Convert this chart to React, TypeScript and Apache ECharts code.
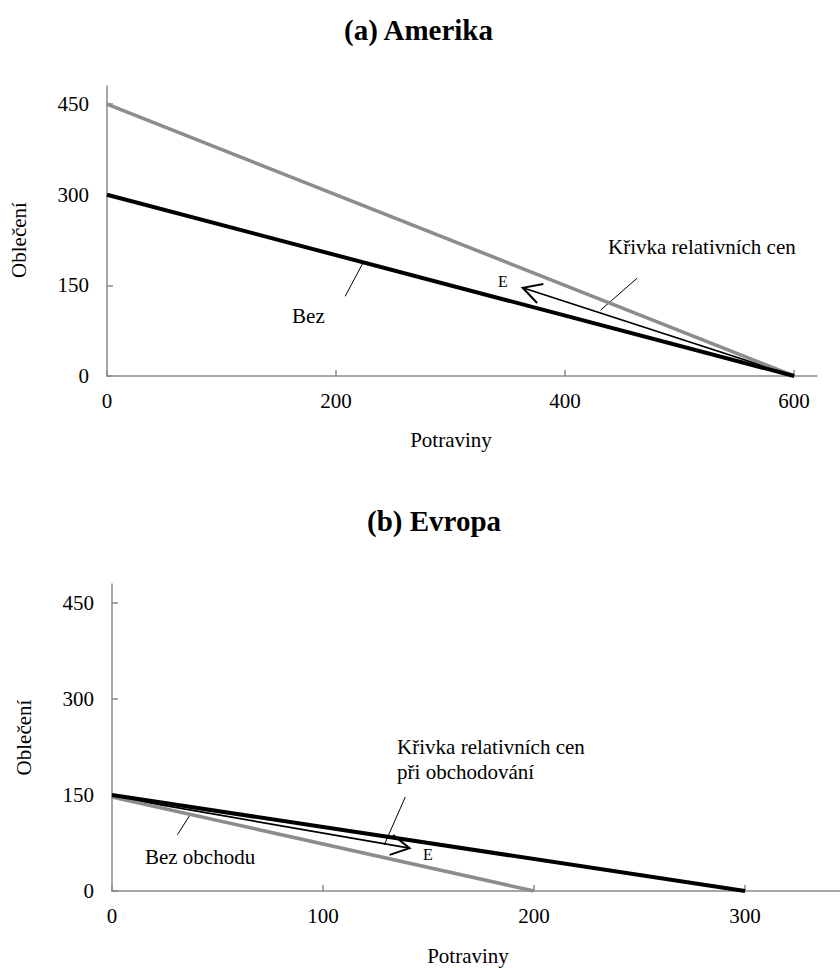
import React, { useEffect, useRef } from "react";
import * as echarts from "echarts";

// ---- data ----
const titleA = "(a) Amerika";
const titleB = "(b) Evropa";
const xName = "Potraviny";
const yName = "Oblečení";

const yTicks = [0, 150, 300, 450];
const xTicksA = [0, 200, 400, 600];
const xTicksB = [0, 100, 200, 300];

// Amerika
const amerikaBez = [[0, 300], [600, 0]]; // black: bez obchodu
const amerikaRel = [[0, 450], [600, 0]]; // gray: křivka relativních cen
const arrowA = [[597, 2, 363, 146]];
const leadersA = [[208, 132, 224, 189], [463, 162, 431, 109]];
const labelTextA = ["Bez", "Křivka relativních cen", "E"];
const labelXA = [161.6, 437.5, 341.5];
const labelYA = [99.3, 213.5, 155.6];
const labelSizeA = [21, 21, 16];

// Evropa
const evropaBez = [[0, 147], [200, 0]]; // gray: bez obchodu
const evropaRel = [[0, 150], [300, 0]]; // black: křivka relativních cen při obchodování
const arrowB = [[0, 148, 141, 67]];
const leadersB = [[31, 88, 37, 119], [139, 147, 129, 72]];
const labelTextB = ["Bez obchodu", "Křivka relativních cen", "při obchodování", "E"];
const labelXB = [15.6, 135.1, 135.1, 147.4];
const labelYB = [53.2, 225.1, 186, 56.3];
const labelSizeB = [21, 21, 21, 16];

const FONT = "Liberation Serif";
const AXIS_GRAY = "#8a8a8a";
const LINE_GRAY = "#8c8c8c";

function arrowRender(params: any, api: any) {
  const p1 = api.coord([api.value(0), api.value(1)]);
  const p2 = api.coord([api.value(2), api.value(3)]);
  const ang = Math.atan2(p1[1] - p2[1], p1[0] - p2[0]);
  const L = 21;
  const a = 0.5;
  const arm1 = [p2[0] + L * Math.cos(ang + a), p2[1] + L * Math.sin(ang + a)];
  const arm2 = [p2[0] + L * Math.cos(ang - a), p2[1] + L * Math.sin(ang - a)];
  return {
    type: "group",
    children: [
      {
        type: "line",
        shape: { x1: p1[0], y1: p1[1], x2: p2[0], y2: p2[1] },
        style: { stroke: "#000", lineWidth: 1.6 },
      },
      {
        type: "polyline",
        shape: { points: [arm1, p2, arm2] },
        style: { stroke: "#000", fill: null, lineWidth: 2 },
      },
    ],
  };
}

function segRender(params: any, api: any) {
  const p1 = api.coord([api.value(0), api.value(1)]);
  const p2 = api.coord([api.value(2), api.value(3)]);
  return {
    type: "line",
    shape: { x1: p1[0], y1: p1[1], x2: p2[0], y2: p2[1] },
    style: { stroke: "#000", lineWidth: 1 },
  };
}

function makeLabelRender(texts: string[], sizes: number[]) {
  return (params: any, api: any) => {
    const p = api.coord([api.value(0), api.value(1)]);
    const i = params.dataIndex;
    return {
      type: "text",
      x: p[0],
      y: p[1],
      style: {
        text: texts[i],
        fill: "#000",
        fontSize: sizes[i],
        fontFamily: FONT,
        align: "left",
        verticalAlign: "middle",
      },
    };
  };
}

function xAxisCfg(gridIndex: number, max: number, ticks: number[], padRight: number, gap: number) {
  return {
    type: "value",
    gridIndex,
    min: 0,
    max,
    name: xName,
    nameLocation: "middle",
    nameGap: gap,
    nameTextStyle: { color: "#000", fontSize: 21, fontFamily: FONT, padding: [0, padRight, 0, 0] },
    axisLine: { show: true, lineStyle: { color: AXIS_GRAY, width: 1.5 } },
    axisTick: { show: true, inside: true, length: 6, customValues: ticks, lineStyle: { color: AXIS_GRAY, width: 1.5 } },
    axisLabel: { customValues: ticks, margin: 14, color: "#000", fontSize: 21, fontFamily: FONT },
    splitLine: { show: false },
  };
}

function yAxisCfg(gridIndex: number, padRight: number) {
  return {
    type: "value",
    gridIndex,
    min: 0,
    max: 480,
    name: yName,
    nameLocation: "middle",
    nameRotate: 90,
    nameGap: 78,
    nameTextStyle: { color: "#000", fontSize: 21, fontFamily: FONT, padding: [0, padRight, 0, 0] },
    axisLine: { show: true, lineStyle: { color: AXIS_GRAY, width: 1.5 } },
    axisTick: { show: true, inside: true, length: 6, customValues: yTicks, lineStyle: { color: AXIS_GRAY, width: 1.5 } },
    axisLabel: { customValues: yTicks, margin: 18, color: "#000", fontSize: 21, fontFamily: FONT },
    splitLine: { show: false },
  };
}

function lineSeries(data: number[][], color: string, width: number, idx: number) {
  return {
    type: "line",
    xAxisIndex: idx,
    yAxisIndex: idx,
    data,
    showSymbol: false,
    symbol: "none",
    lineStyle: { color, width },
    silent: true,
  };
}

export default function App() {
  const ref = useRef<HTMLDivElement>(null);
  useEffect(() => {
    document.body.style.margin = "0";
    const chart = echarts.init(ref.current!, null, { renderer: "svg" });
    chart.setOption({
      animation: false,
      backgroundColor: "#fff",
      textStyle: { fontFamily: FONT },
      title: [
        { text: titleA, left: 339, top: 10, textStyle: { fontSize: 29, fontWeight: "bold", fontFamily: FONT, color: "#000" } },
        { text: titleB, left: 362, top: 501, textStyle: { fontSize: 29, fontWeight: "bold", fontFamily: FONT, color: "#000" } },
      ],
      grid: [
        { left: 107, right: 23, top: 86, height: 290 },
        { left: 112, right: 0, top: 584, height: 307 },
      ],
      xAxis: [xAxisCfg(0, 620, xTicksA, 22, 53), xAxisCfg(1, 345, xTicksB, 16, 54)],
      yAxis: [yAxisCfg(0, 18), yAxisCfg(1, 0)],
      series: [
        lineSeries(amerikaRel, LINE_GRAY, 3.5, 0),
        lineSeries(amerikaBez, "#000", 4, 0),
        { type: "custom", xAxisIndex: 0, yAxisIndex: 0, data: arrowA, renderItem: arrowRender, encode: { x: [0, 2], y: [1, 3] }, silent: true },
        { type: "custom", xAxisIndex: 0, yAxisIndex: 0, data: leadersA, renderItem: segRender, encode: { x: [0, 2], y: [1, 3] }, silent: true },
        {
          type: "custom", xAxisIndex: 0, yAxisIndex: 0,
          data: labelXA.map((x, i) => [x, labelYA[i]]),
          renderItem: makeLabelRender(labelTextA, labelSizeA), encode: { x: 0, y: 1 }, silent: true,
        },
        lineSeries(evropaBez, LINE_GRAY, 3.5, 1),
        lineSeries(evropaRel, "#000", 4, 1),
        { type: "custom", xAxisIndex: 1, yAxisIndex: 1, data: arrowB, renderItem: arrowRender, encode: { x: [0, 2], y: [1, 3] }, silent: true },
        { type: "custom", xAxisIndex: 1, yAxisIndex: 1, data: leadersB, renderItem: segRender, encode: { x: [0, 2], y: [1, 3] }, silent: true },
        {
          type: "custom", xAxisIndex: 1, yAxisIndex: 1,
          data: labelXB.map((x, i) => [x, labelYB[i]]),
          renderItem: makeLabelRender(labelTextB, labelSizeB), encode: { x: 0, y: 1 }, silent: true,
        },
      ],
    });
    return () => chart.dispose();
  }, []);
  return <div ref={ref} style={{ width: 840, height: 968 }} />;
}
